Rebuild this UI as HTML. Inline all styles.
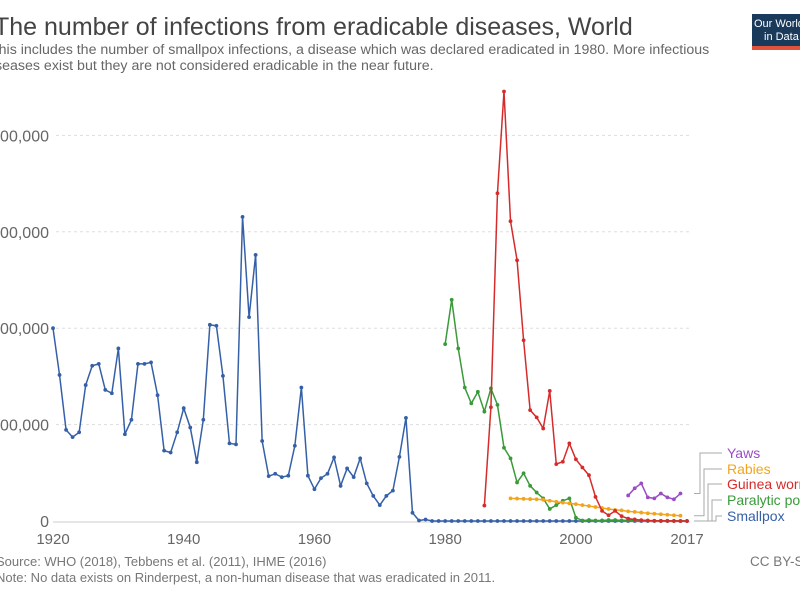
<!DOCTYPE html>
<html><head><meta charset="utf-8"><style>
body{margin:0;background:#fff;width:800px;height:600px;overflow:hidden;font-family:"Liberation Sans",sans-serif}
svg{position:absolute;left:0;top:0}
</style></head><body>
<svg width="800" height="600" font-family="Liberation Sans, sans-serif">
<text x="-6" y="35" font-size="25" fill="#444">The number of infections from eradicable diseases, World</text>
<text x="-10" y="54" font-size="14.2" fill="#666">This includes the number of smallpox infections, a disease which was declared eradicated in 1980. More infectious</text>
<text x="-16" y="70" font-size="14.2" fill="#666">diseases exist but they are not considered eradicable in the near future.</text>
<g>
<rect x="752" y="14" width="60" height="36" fill="#1a3a5c"/>
<rect x="752" y="46" width="60" height="4" fill="#e0533a"/>
<text x="754" y="27" font-size="11" fill="#fff">Our World</text>
<text x="764" y="40" font-size="11" fill="#fff">in Data</text>
</g>
<g id="axes"></g>
<g id="series"></g>
<g id="legend"></g>
<text x="-4" y="566" font-size="13" fill="#777">Source: WHO (2018), Tebbens et al. (2011), IHME (2016)</text>
<text x="-4" y="582" font-size="13" fill="#777">Note: No data exists on Rinderpest, a non-human disease that was eradicated in 2011.</text>
<text x="750" y="566" font-size="13.5" fill="#777">CC BY-SA</text>
</svg>
<script>
const yTicks=[0,200000,400000,600000,800000];
const xTicks=[1920,1940,1960,1980,2000,2017];
const smallpoxStart=1920;
const smallpox=[400000,303000,189000,174000,184000,282000,322000,326000,272000,265000,358000,180000,210000,326000,326000,329000,261000,146000,142000,184000,234000,194000,122000,210000,407000,405000,301000,161000,159000,631000,423000,552000,166000,93000,98000,91000,94000,156000,277000,94000,66000,89000,98000,132000,73000,109000,91000,130000,78000,52000,33000,52000,63000,133000,214000,17000,1000,3000,0,0,0,0,0,0,0,0,0,0,0,0,0,0,0,0,0,0,0,0,0,0,0,0,0,0,0,0,0,0,0,0,0,0,0,0,0,0,0,0];
const polioStart=1980;
const polio=[367000,459000,358000,277000,244000,268000,227000,275000,241000,152000,130000,80000,99000,73000,59000,47000,25000,33000,42000,47000,7000,1000,2000,1000,1200,1900,2000,1300,1600,1600,1300,650,220,420,360,75,40,22];
const guineaStart=1986;
const guinea=[32000,236000,680000,891000,622000,541000,375000,230000,215000,192000,270000,118000,123000,161000,128000,111000,95000,50000,21000,12000,21000,10000,5000,3200,1800,1100,540,150,130,130,30,30];
const rabiesStart=1990;
const rabies=[47000,46500,46000,45500,45000,44000,42000,40000,38000,36500,35000,33000,31000,29000,27000,25000,23000,22000,20000,19000,17500,16000,15000,14000,13000,12000,11000];
const yawsStart=2008;
const yaws=[53000,68000,78000,49000,47000,57000,49000,45000,57000];
const names=["Yaws","Rabies","Guinea worm","Paralytic polio","Smallpox"];
const colors=["#9a4cc4","#f2a51c","#d62b2b","#3a9a3a","#3560a8"];
const legendY=[453,469,484,500,516];

const X=y=>53+(y-1920)*(634/97);
const Y=v=>521-v*(96.4/200000);
const NS="http://www.w3.org/2000/svg";
function el(t,a,p){const e=document.createElementNS(NS,t);for(const k in a)e.setAttribute(k,a[k]);p.appendChild(e);return e;}
const ax=document.getElementById('axes');
yTicks.forEach(v=>{
  if(v>0){const g=el('line',{x1:56,x2:690,y1:Y(v),y2:Y(v),stroke:'#ddd','stroke-dasharray':'3,3'},ax);
  
  }
  const t=el('text',{x:49,y:Y(v)+6,'text-anchor':'end','font-size':16,fill:'#666'},ax);
  
  
  t.textContent=v.toLocaleString('en-US');
});
const base=el('line',{x1:53,x2:690,y1:Y(0)+1,y2:Y(0)+1,stroke:'#ccc'},ax);


xTicks.forEach(y=>{
  const t=el('text',{x:X(y),y:544,'text-anchor':'middle','font-size':15,fill:'#666'},ax);
  
  
  t.textContent=y;
});
const sg=document.getElementById('series');
const seriesList=[[smallpox,smallpoxStart,4],[polio,polioStart,3],[rabies,rabiesStart,1],[guinea,guineaStart,2],[yaws,yawsStart,0]];
seriesList.forEach(([d,s,ci])=>{
  const pts=d.map((v,i)=>[X(s+i),Y(v)]);
  const g=el('g',{},sg);
  
  
  el('polyline',{points:pts.map(p=>p.join(',')).join(' '),fill:'none',stroke:colors[ci],'stroke-width':1.5},g);
  pts.forEach(p=>{const c=el('circle',{cx:p[0],cy:p[1],r:1.9,fill:colors[ci]},g);
    
    });
});
const lg=document.getElementById('legend');
const ends=[[yaws,yawsStart],[rabies,rabiesStart],[guinea,guineaStart],[polio,polioStart],[smallpox,smallpoxStart]];
names.forEach((n,i)=>{
  const [d,s]=ends[i];const ey=Y(d[d.length-1]);const bx=700+i*4;
  const g=el('g',{},lg);
  
  
  el('polyline',{points:`${694},${ey} ${bx},${ey} ${bx},${legendY[i]} 722,${legendY[i]}`,fill:'none',stroke:'#aaa','stroke-width':1},g);
  const t=el('text',{x:727,y:legendY[i]+5,'font-size':14,fill:colors[i]},g);
  t.textContent=n;
});
</script>
</body></html>
